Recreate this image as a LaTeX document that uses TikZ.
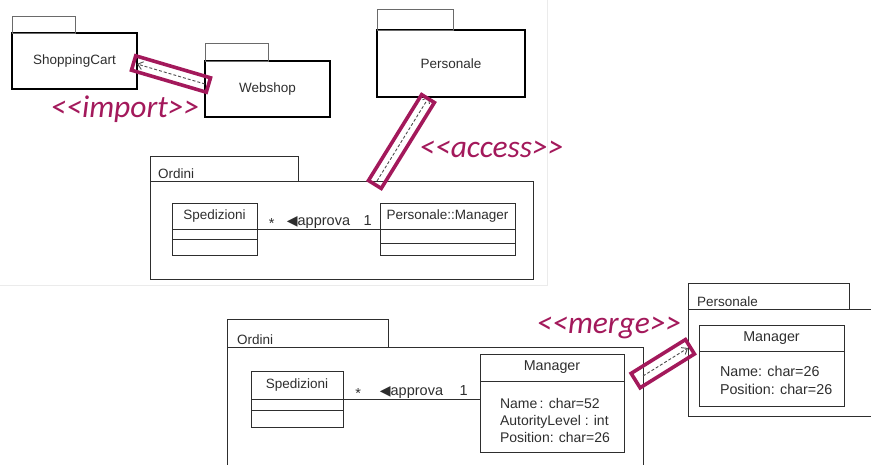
\documentclass[tikz,border=0pt]{standalone}
\usepackage{fontspec}
\setmainfont{Liberation Sans}
\newfontfamily\stereofont[Ligatures=TeXOff]{Carlito}
\newfontfamily\symbolfont{DejaVu Sans}
\newcommand\navtipfont{\symbolfont\fontsize{14pt}{16pt}\selectfont}
\usetikzlibrary{arrows.meta,calc}

\definecolor{ink}{HTML}{2E2E2E}
\definecolor{hl}{HTML}{A3195B}
\definecolor{tabline}{HTML}{6A6A6A}

\tikzset{
  every node/.style={inner sep=0pt, outer sep=0pt, text=ink,
                     font=\fontsize{13.5pt}{16pt}\selectfont},
  pkgthick/.style={draw=black, line width=2.2pt},
  pkgthin/.style={draw=ink, line width=0.9pt},
  pkgtab/.style={draw=tabline, line width=0.9pt, anchor=south west},
  pkglabel/.style={anchor=base west},
  clsbox/.style={draw=ink, line width=0.8pt, anchor=north west},
  % base of a multi-line node is the baseline of its last line
  attrtext/.style={anchor=base west, align=left},
  assoc/.style={draw=ink, line width=0.8pt},
  rolelabel/.style={anchor=base, yshift=4pt, font=\fontsize{14.5pt}{17pt}\selectfont},
  depend/.style={draw=ink!85, line width=0.9pt, dash pattern=on 3pt off 2pt,
                 -{Straight Barb[length=5pt,width=8pt]}},
  hlbox/.style={draw=hl, line width=3.6pt, solid, sloped},
  stereo/.style={anchor=base, text=hl,
                 font=\stereofont\itshape\fontsize{31.5pt}{36pt}\selectfont},
}

\begin{document}
\begin{tikzpicture}[x=1pt,y=-1pt]
\useasboundingbox (0,0) rectangle (871,464);
\clip (0,0) rectangle (871,464);

% faint frame of the upper panel
\draw[black!8, line width=1pt] (547,0) -- (547,285) -- (0,285);

% ---------- upper panel: packages ----------
\node[pkgthick, minimum width=125pt, minimum height=56pt] (cart) at (74.5,61) {ShoppingCart};
\node[pkgtab, minimum width=63pt, minimum height=17pt] (carttab) at (cart.north west) {};

\node[pkgthick, minimum width=125pt, minimum height=56pt] (web) at (267.5,89) {Webshop};
\node[pkgtab, minimum width=63pt, minimum height=18pt] (webtab) at (web.north west) {};

\node[pkgthick, minimum width=148pt, minimum height=67pt] (per) at (451,63.5) {Personale};
\node[pkgtab, minimum width=76pt, minimum height=21pt] (pertab) at (per.north west) {};

% Ordini package (upper)
\node[pkgthin, minimum width=383pt, minimum height=98pt] (ord1) at (341.5,230) {};
\node[pkgthin, anchor=south west, minimum width=148pt, minimum height=25pt] (ord1tab) at (ord1.north west) {};
\node[pkglabel] (ord1lbl) at ([xshift=8pt,yshift=2.5pt]ord1tab.south west) {Ordini};

% classes inside Ordini (upper)
\node[clsbox, minimum width=85pt, minimum height=26pt] (sp1) at (172,203) {Spedizioni};
\node[clsbox, minimum width=85pt, minimum height=10pt] (sp1a) at (sp1.south west) {};
\node[clsbox, minimum width=85pt, minimum height=16pt] (sp1o) at (sp1a.south west) {};

\node[clsbox, minimum width=135pt, minimum height=26pt] (pm1) at (380,203) {Personale::Manager};
\node[clsbox, minimum width=135pt, minimum height=14pt] (pm1a) at (pm1.south west) {};
\node[clsbox, minimum width=135pt, minimum height=12pt] (pm1o) at (pm1a.south west) {};

\draw[assoc] (sp1.south east) -- (pm1.south west)
  node[rolelabel, pos=0.12, yshift=-3pt] (sp1mult) {*}
  node[rolelabel, pos=0.5] (appr1) {{\navtipfont ◀}approva}
  node[rolelabel, pos=0.9] (pm1mult) {1};

% import dependency
\coordinate (impS) at ([yshift=5pt]web.west);
\coordinate (impE) at ([yshift=-3pt]cart.east);
\draw[depend] (impS) -- (impE);
\path (impS) -- (impE) node[hlbox, midway, minimum width=78pt, minimum height=15pt] (imphl) {};
\node[stereo] (implbl) at (125,117) {<<import>>};

% access dependency
\coordinate (accS) at ([xshift=35.5pt]ord1.north);
\coordinate (accE) at ([xshift=-22pt]per.south);
\draw[depend] (accS) -- (accE);
\path (accS) -- (accE) node[hlbox, pos=0.47, minimum width=101pt, minimum height=15pt] (acchl) {};
\node[stereo] (acclbl) at (491.5,157) {<<access>>};

% ---------- lower panel ----------
\node[pkgthin, minimum width=416pt, minimum height=133pt] (ord2) at (435,413.5) {};
\node[pkgthin, anchor=south west, minimum width=161pt, minimum height=28pt] (ord2tab) at (ord2.north west) {};
\node[pkglabel] (ord2lbl) at ([xshift=10pt,yshift=2.5pt]ord2tab.south west) {Ordini};

\node[clsbox, minimum width=92pt, minimum height=28pt] (sp2) at (251,371) {Spedizioni};
\node[clsbox, minimum width=92pt, minimum height=11pt] (sp2a) at (sp2.south west) {};
\node[clsbox, minimum width=92pt, minimum height=17pt] (sp2o) at (sp2a.south west) {};

\node[clsbox, minimum width=144pt, minimum height=27pt, font=\fontsize{14.3pt}{17pt}\selectfont] (mg2) at (480,354) {Manager};
\node[clsbox, minimum width=144pt, minimum height=71pt] (mg2a) at (mg2.south west) {};
\node[attrtext, font=\fontsize{14pt}{17pt}\selectfont] (mg2t) at ([xshift=20pt,yshift=-61pt]mg2a.north west)
  {Name\,: char=52\\AutorityLevel : int\\Position: char=26};

\draw[assoc] (sp2.south east) -- (sp2.south east -| mg2.west)
  node[rolelabel, pos=0.11, yshift=-3pt] (sp2mult) {*}
  node[rolelabel, pos=0.5] (appr2) {{\navtipfont ◀}approva}
  node[rolelabel, pos=0.88] (mg2mult) {1};

% Personale package (lower right)
\node[pkgthin, minimum width=197pt, minimum height=107pt] (per2) at (786.5,362.5) {};
\node[pkgthin, anchor=south west, minimum width=161pt, minimum height=26pt] (per2tab) at (per2.north west) {};
\node[pkglabel] (per2lbl) at ([xshift=9pt,yshift=2.5pt]per2tab.south west) {Personale};

\node[clsbox, minimum width=145pt, minimum height=26pt, font=\fontsize{14.3pt}{17pt}\selectfont] (mg3) at (699,325) {Manager};
\node[clsbox, minimum width=145pt, minimum height=55pt] (mg3a) at (mg3.south west) {};
\node[attrtext, font=\fontsize{14.3pt}{18pt}\selectfont] (mg3t) at ([xshift=21pt,yshift=-43pt]mg3a.north west)
  {Name: char=26\\Position: char=26};

% merge dependency
\coordinate (mrgS) at ([yshift=37.5pt]ord2.east);
\coordinate (mrgE) at ([yshift=14.5pt]per2.west);
\draw[depend] (mrgS) -- (mrgE);
\path (mrgS) -- (mrgE) node[hlbox, pos=0.44, minimum width=64pt, minimum height=17pt] (mrghl) {};
\node[stereo] (mrglbl) at (609,333) {<<merge>>};
\end{tikzpicture}
\end{document}
